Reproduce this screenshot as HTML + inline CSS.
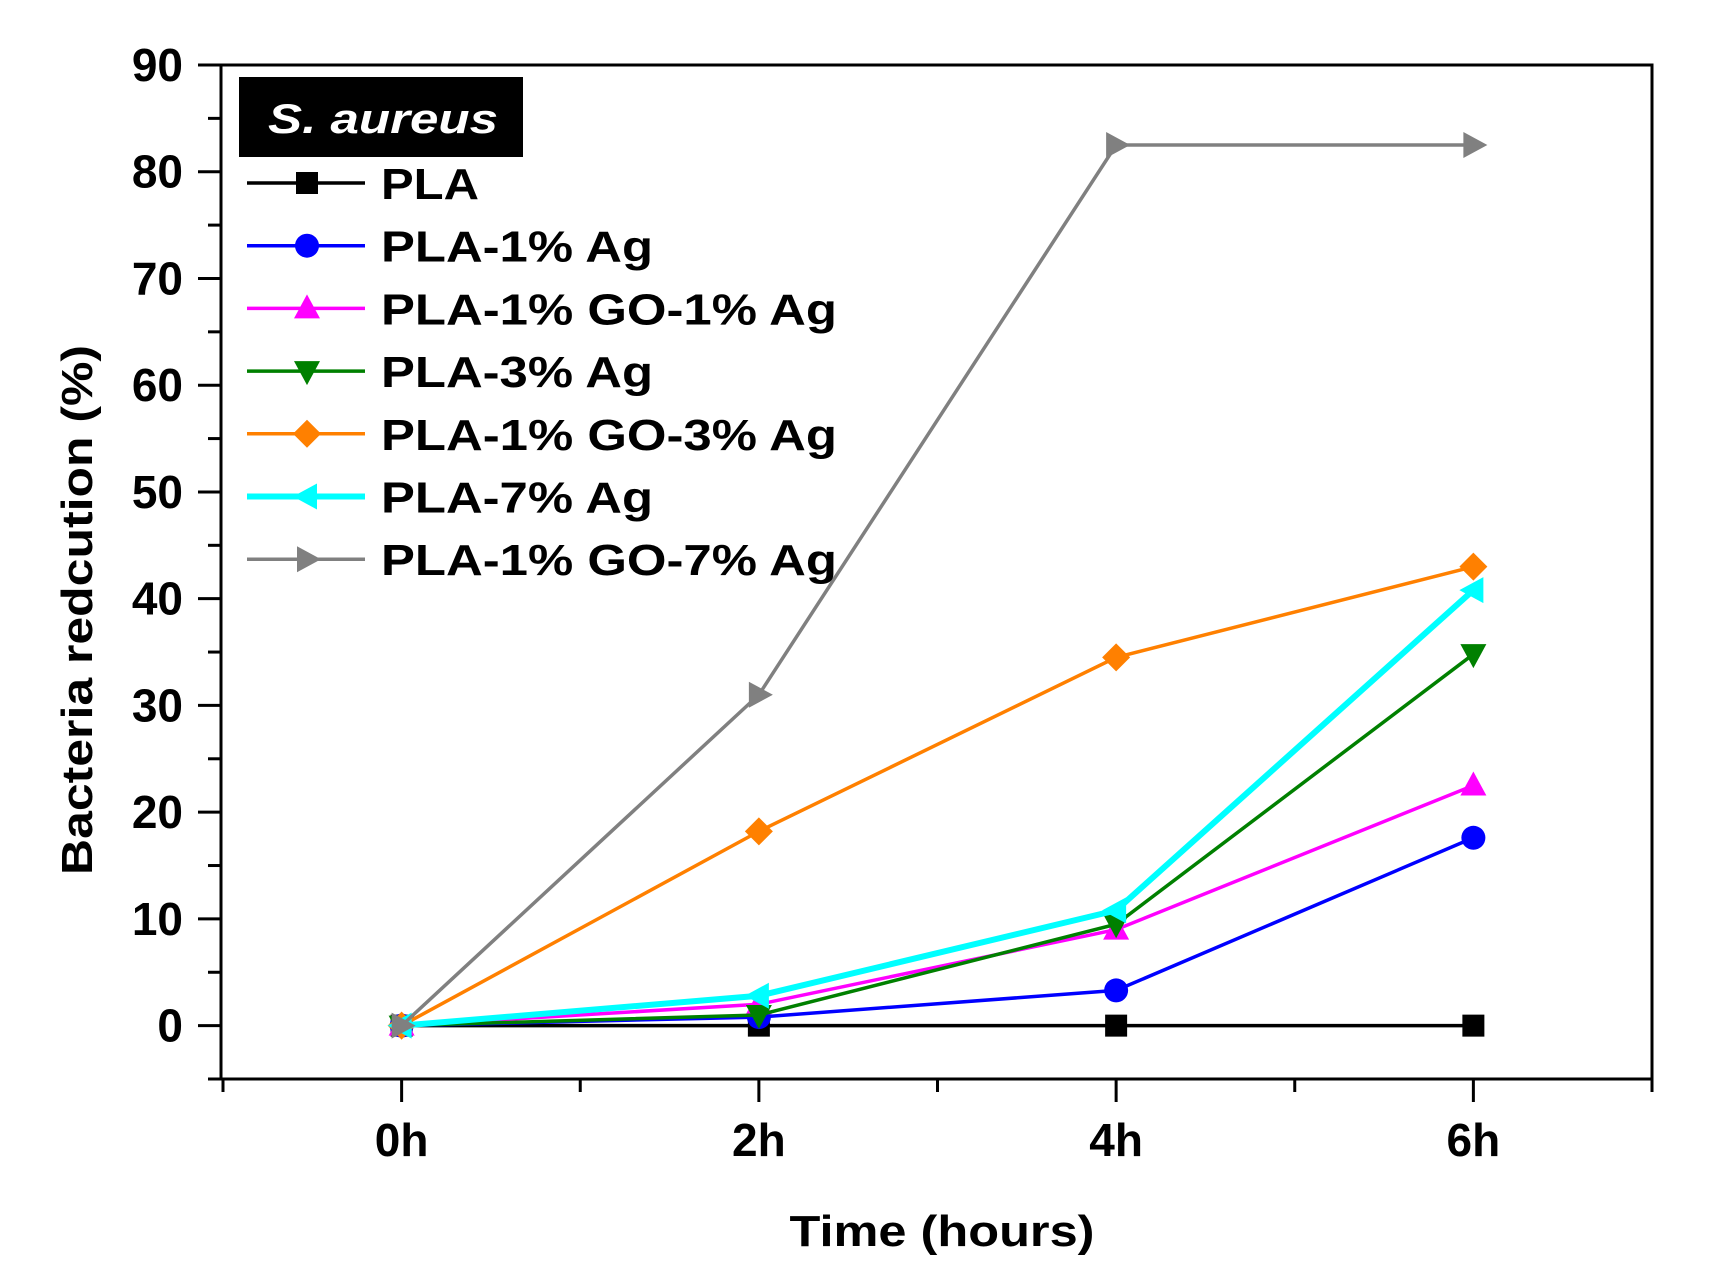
<!DOCTYPE html>
<html><head><meta charset="utf-8"><style>html,body{margin:0;padding:0;background:#fff}svg{display:block}text{font-family:"Liberation Sans",Arial,sans-serif;font-weight:bold}</style></head>
<body>
<svg id="chart" width="1711" height="1288" viewBox="0 0 1711 1288" xmlns="http://www.w3.org/2000/svg">
<g id="axes"></g>
<g id="series"></g>
<g id="legend"></g>
</svg>
<script>
const categories = ["0h","2h","4h","6h"];
const hours = [0,2,4,6];
const seriesNames = ["PLA","PLA-1% Ag","PLA-1% GO-1% Ag","PLA-3% Ag","PLA-1% GO-3% Ag","PLA-7% Ag","PLA-1% GO-7% Ag"];
const pla = [0,0,0,0];
const pla1Ag = [0,0.8,3.3,17.6];
const go1Ag1 = [0,2,9,22.5];
const pla3Ag = [0,1,9.5,34.8];
const go1Ag3 = [0,18.2,34.5,43];
const pla7Ag = [0,2.8,10.8,40.8];
const go1Ag7 = [0,31,82.5,82.5];
const yTicks = [0,10,20,30,40,50,60,70,80,90];
const yTickLabels = ["0","10","20","30","40","50","60","70","80","90"];

const NS="http://www.w3.org/2000/svg";
const L=221,R=1652,T=65,B=1079;
const xMin=-1,xMax=7,yMin=-5,yMax=90;
const xs=h=>L+2+(h-xMin)/(xMax-xMin)*(R-L-2);
const ys=v=>B-(v-yMin)/(yMax-yMin)*(B-T);
function mk(tag,attrs,parent){const e=document.createElementNS(NS,tag);for(const k in attrs)e.setAttribute(k,attrs[k]);parent.appendChild(e);return e;}
const axes=document.getElementById('axes');
const frame=mk('rect',{x:L,y:T,width:R-L,height:B-T,fill:'none',stroke:'#000','stroke-width':3},axes);


for(let v=-5;v<=90;v+=5){
  const major=v%10===0;
  const t=mk('line',{x1:major?198:208,x2:L,y1:ys(v),y2:ys(v),stroke:'#000','stroke-width':3},axes);
  
  
}
yTicks.forEach((v,i)=>{
  const t=mk('text',{x:183,y:ys(v)+16,'text-anchor':'end','font-size':46},axes);
  t.textContent=yTickLabels[i];
  
  
});
for(let h=-1;h<=7;h++){
  const major=h>=0&&h%2===0&&h<=6;
  const t=mk('line',{x1:xs(h),x2:xs(h),y1:B,y2:B+(major?23:13),stroke:'#000','stroke-width':3},axes);
  
  
}
categories.forEach((c,i)=>{
  const t=mk('text',{x:xs(hours[i]),y:1156,'text-anchor':'middle','font-size':46},axes);
  t.textContent=c;
  
  
});
const xt=mk('text',{x:942,y:1246,'text-anchor':'middle','font-size':44,textLength:305,lengthAdjust:'spacingAndGlyphs'},axes);
xt.textContent='Time (hours)';


const yt=mk('text',{x:0,y:0,'text-anchor':'middle','font-size':44,textLength:530,lengthAdjust:'spacingAndGlyphs',transform:'translate(92,610) rotate(-90)'},axes);
yt.textContent='Bacteria redcution (%)';



const colors=['#000000','#0000ff','#ff00ff','#008000','#ff8000','#00ffff','#808080'];
const markers=['square','circle','up','down','diamond','left','right'];
const widths=[3.5,3.5,3.5,3.5,3.5,6,3.5];
const allSeries=[pla,pla1Ag,go1Ag1,pla3Ag,go1Ag3,pla7Ag,go1Ag7];
function marker(type,x,y,c,parent){
  const s=12;let e;
  if(type==='square')e=mk('rect',{x:x-s+1,y:y-s+1,width:2*s-2,height:2*s-2,fill:c},parent);
  else if(type==='circle')e=mk('circle',{cx:x,cy:y,r:s,fill:c},parent);
  else{
    let p;
    if(type==='up')p=[[x,y-s-2],[x+s+1,y+s-2],[x-s-1,y+s-2]];
    if(type==='down')p=[[x,y+s+2],[x+s+1,y-s+2],[x-s-1,y-s+2]];
    if(type==='diamond')p=[[x,y-s-2],[x+s+2,y],[x,y+s+2],[x-s-2,y]];
    if(type==='left')p=[[x-s-2,y],[x+s-2,y-s-1],[x+s-2,y+s+1]];
    if(type==='right')p=[[x+s+2,y],[x-s+2,y-s-1],[x-s+2,y+s+1]];
    e=mk('polygon',{points:p.map(q=>q.join(',')).join(' '),fill:c},parent);
  }
  return e;
}
const sg=document.getElementById('series');
allSeries.forEach((vals,si)=>{
  const g=mk('g',{},sg);
  
  
  const pl=mk('polyline',{points:vals.map((v,i)=>xs(hours[i])+','+ys(v)).join(' '),fill:'none',stroke:colors[si],'stroke-width':widths[si]},g);
  
  
  vals.forEach((v,i)=>{
    const m=marker(markers[si],xs(hours[i]),ys(v),colors[si],g);
    
    
  });
});
const lg=document.getElementById('legend');
const box=mk('rect',{x:239,y:77,width:284,height:80,fill:'#000'},lg);


const lt=mk('text',{x:268,y:133,fill:'#fff','font-size':42,'font-style':'italic','font-weight':'normal',textLength:230,lengthAdjust:'spacingAndGlyphs'},lg);
lt.textContent='S. aureus';


const textWidths=[98,272,456,272,456,272,456];
seriesNames.forEach((n,i)=>{
  const y=183+i*62.7;
  const g=mk('g',{},lg);
  
  
  mk('line',{x1:247,x2:365,y1:y,y2:y,stroke:colors[i],'stroke-width':widths[i]},g);
  marker(markers[i],307,y,colors[i],g);
  const t=mk('text',{x:381,y:y+16,'font-size':44,textLength:textWidths[i],lengthAdjust:'spacingAndGlyphs'},g);
  t.textContent=n;
});
</script>
</body></html>
